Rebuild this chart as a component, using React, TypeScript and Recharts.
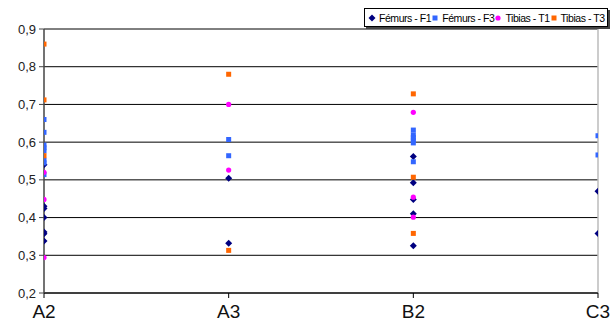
import React from 'react';
import { ScatterChart, Scatter, XAxis, YAxis, CartesianGrid, ReferenceLine, Legend } from 'recharts';

const categories = ['A2', 'A3', 'B2', 'C3'];
const yTicks = [0.2, 0.3, 0.4, 0.5, 0.6, 0.7, 0.8, 0.9];

// values per category (A2, A3, B2, C3)
const femursF1 = [
  [0.54, 0.43, 0.424, 0.4, 0.362, 0.357, 0.338],
  [0.504, 0.332],
  [0.562, 0.492, 0.448, 0.41, 0.325],
  [0.47, 0.358],
];
const femursF3 = [
  [0.66, 0.626, 0.592, 0.585, 0.577, 0.552, 0.545, 0.514],
  [0.607, 0.564],
  [0.632, 0.619, 0.612, 0.605, 0.598, 0.548],
  [0.617, 0.566],
];
const tibiasT1 = [
  [0.52, 0.448, 0.294],
  [0.7, 0.526],
  [0.679, 0.454, 0.401],
  [],
];
const tibiasT3 = [
  [0.86, 0.712, 0.564],
  [0.78, 0.313],
  [0.728, 0.507, 0.358],
  [],
];

const toPoints = (vals: number[][]) =>
  vals.flatMap((arr, i) => arr.map((v) => ({ x: i, y: v })));

const series = [
  { name: 'Fémurs - F1', color: '#000080', kind: 'diamond', data: toPoints(femursF1) },
  { name: 'Fémurs - F3', color: '#3366FF', kind: 'square', data: toPoints(femursF3) },
  { name: 'Tibias - T1', color: '#FF00FF', kind: 'circle', data: toPoints(tibiasT1) },
  { name: 'Tibias - T3', color: '#FF6600', kind: 'square', data: toPoints(tibiasT3) },
];

const Marker = ({ kind, color, cx, cy }: any) => {
  if (kind === 'diamond') {
    const r = 3.5;
    return <polygon points={`${cx},${cy - r} ${cx + r},${cy} ${cx},${cy + r} ${cx - r},${cy}`} fill={color} />;
  }
  if (kind === 'circle') {
    return <circle cx={cx} cy={cy} r={2.6} fill={color} />;
  }
  return <rect x={cx - 2.5} y={cy - 2.5} width={5} height={5} fill={color} />;
};

const LegendContent = () => (
  <div
    style={{
      border: '1px solid #000',
      boxShadow: '2px 2px 0 #444',
      background: '#fff',
      display: 'flex',
      alignItems: 'center',
      justifyContent: 'space-between',
      padding: '0 3px 0 3px',
      fontFamily: 'Liberation Sans, Arial, sans-serif',
      fontSize: 10.5,
      letterSpacing: -0.45,
      color: '#000',
      whiteSpace: 'nowrap',
      boxSizing: 'border-box',
      height: 19,
      width: 244,
    }}
  >
    {series.map((s) => (
      <span key={s.name} style={{ display: 'inline-flex', alignItems: 'center' }}>
        <svg width={8} height={10} style={{ marginRight: 3 }}>
          <Marker kind={s.kind} color={s.color} cx={4} cy={5} />
        </svg>
        {s.name}
      </span>
    ))}
  </div>
);

export default function App() {
  return (
    <div style={{ width: 612, height: 323, background: '#fff' }}>
      <style>{'body{margin:0;background:#fff}'}</style>
      <ScatterChart width={612} height={323} margin={{ top: 29, right: 14, bottom: 0, left: 0 }}>
        <CartesianGrid horizontal={true} vertical={false} stroke="#000" strokeOpacity={1} />
        <XAxis
          type="number"
          dataKey="x"
          domain={[0, 3]}
          ticks={[0, 1, 2, 3]}
          tickFormatter={(i: number) => categories[i]}
          height={30}
          axisLine={{ stroke: '#000' }}
          tickLine={{ stroke: '#000' }}
          tickSize={5}
          tickMargin={7}
          tick={{ fontSize: 19, fill: '#111', fontFamily: 'Liberation Sans, Arial, sans-serif' }}
          interval={0}
          allowDataOverflow
        />
        <YAxis
          type="number"
          dataKey="y"
          domain={[0.2, 0.9]}
          ticks={yTicks}
          tickFormatter={(v: number) => v.toFixed(1).replace('.', ',')}
          width={44}
          axisLine={{ stroke: '#444', strokeWidth: 1.5 }}
          tickLine={{ stroke: '#444' }}
          tickSize={5}
          tickMargin={3}
          tick={{ fontSize: 13, fill: '#222', fontFamily: 'Liberation Sans, Arial, sans-serif' }}
          allowDataOverflow
        />
        <ReferenceLine x={3} stroke="#bbb" strokeWidth={1.5} />
        <Legend
          layout="vertical"
          align="center"
          verticalAlign="middle"
          content={<LegendContent />}
          wrapperStyle={{ top: 8, left: 364, width: 244, height: 19 }}
        />
        {series.map((s) => (
          <Scatter
            key={s.name}
            name={s.name}
            data={s.data}
            fill={s.color}
            isAnimationActive={false}
            shape={(p: any) => <Marker kind={s.kind} color={s.color} cx={p.cx} cy={p.cy} />}
          />
        ))}
      </ScatterChart>
    </div>
  );
}
